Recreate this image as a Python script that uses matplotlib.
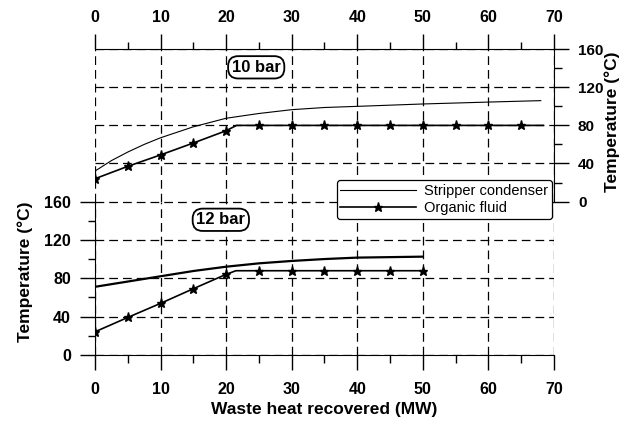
import matplotlib.pyplot as plt
import numpy as np

plt.rcParams['font.family'] = ['Liberation Sans', 'DejaVu Sans']
plt.rcParams['font.weight'] = 'bold'
plt.rcParams['axes.labelweight'] = 'bold'

# 10 bar case (upper panel)
x_sc_10 = [0, 2.5, 5, 7.5, 10, 15, 20, 25, 30, 35, 40, 50, 60, 68]
y_sc_10 = [32, 43, 52, 60, 67, 78.5, 87.5, 92.5, 96.5, 98.8, 100, 102.5, 104.5, 106]
x_of_10 = [0, 5, 10, 15, 20, 21.6, 25, 30, 35, 40, 45, 50, 55, 60, 65, 68.4]
y_of_10 = [24, 37, 49, 61.5, 74.4, 80, 80, 80, 80, 80, 80, 80, 80, 80, 80, 80]
marks_10 = [0, 1, 2, 3, 4, 6, 7, 8, 9, 10, 11, 12, 13, 14]

# 12 bar case (lower panel)
x_sc_12 = [0, 5, 10, 15, 20, 25, 30, 35, 40, 45, 50]
y_sc_12 = [71, 76.5, 82, 87.5, 92, 95.5, 98, 100, 101.5, 102, 102.5]
x_of_12 = [0, 5, 10, 15, 20, 21.5, 25, 30, 35, 40, 45, 50]
y_of_12 = [24, 39, 53.7, 69, 84, 87.8, 87.8, 87.8, 87.8, 87.8, 87.8, 87.8]
marks_12 = [0, 1, 2, 3, 4, 6, 7, 8, 9, 10, 11]

x_ticks = [0, 10, 20, 30, 40, 50, 60, 70]
y_ticks = [0, 40, 80, 120, 160]

fig = plt.figure(figsize=(6.33, 4.28), dpi=100)
ax_bot = fig.add_axes([0.150, 0.171, 0.725, 0.358])
ax_top = fig.add_axes([0.150, 0.529, 0.725, 0.356])

dash = (0, (7, 4))

for ax in (ax_bot, ax_top):
    ax.set_xlim(0, 70)
    ax.set_ylim(0, 160)
    ax.set_xticks(x_ticks)
    ax.set_yticks(y_ticks)
    ax.set_xticks(np.arange(5, 70, 10), minor=True)
    ax.set_yticks(np.arange(20, 160, 40), minor=True)
    ax.grid(True, which='major', color='black', linestyle=dash, linewidth=0.9)
    ax.tick_params(which='major', direction='out', length=10.8, width=1)
    ax.tick_params(which='minor', direction='out', length=5.4, width=1)
    ax.set_axisbelow(True)

# bottom panel: left and bottom spines only
ax_bot.spines['top'].set_visible(False)
ax_bot.spines['right'].set_visible(False)
ax_bot.tick_params(axis='x', which='major', labelsize=11.5, pad=8.6)
ax_bot.tick_params(axis='y', which='major', labelsize=11.5, pad=6.5)
ax_bot.plot(x_sc_12, y_sc_12, color='black', linewidth=1.6)
ax_bot.plot(x_of_12, y_of_12, color='black', linewidth=1.2, marker='*',
            markersize=6.5, markevery=marks_12)
ax_bot.set_xlabel('Waste heat recovered (MW)', fontsize=12.5, fontweight='bold', labelpad=4)
ax_bot.set_ylabel('Temperature (\u00b0C)', fontsize=12.5, fontweight='bold')
ax_bot.yaxis.set_label_coords(-0.135, 0.54)
ax_bot.text(19.2, 141, '12 bar', fontsize=12, ha='center', va='center',
            bbox=dict(boxstyle='round,pad=0.22,rounding_size=0.6', facecolor='white',
                      edgecolor='black', linewidth=1.3))

# top panel: top and right spines only
ax_top.patch.set_visible(False)
ax_top.spines['bottom'].set_visible(False)
ax_top.spines['left'].set_visible(False)
ax_top.xaxis.tick_top()
ax_top.yaxis.tick_right()
ax_top.yaxis.set_label_position('right')
ax_top.tick_params(axis='x', which='major', labelsize=11.5, pad=6.5)
ax_top.tick_params(axis='y', which='major', labelsize=11, pad=6.5)
ax_top.plot(x_sc_10, y_sc_10, color='black', linewidth=0.8, label='Stripper condenser')
ax_top.plot(x_of_10, y_of_10, color='black', linewidth=1.2, marker='*',
            markersize=6.5, markevery=marks_10, label='Organic fluid')
ax_top.set_ylabel('Temperature (\u00b0C)', fontsize=12.5, fontweight='bold')
ax_top.yaxis.set_label_coords(1.11, 0.524)
ax_top.text(24.6, 141, '10 bar', fontsize=12, ha='center', va='center',
            bbox=dict(boxstyle='round,pad=0.22,rounding_size=0.6', facecolor='white',
                      edgecolor='black', linewidth=1.3))

leg = ax_top.legend(loc='lower right', bbox_to_anchor=(552 / 633, 1 - 219 / 428),
                    bbox_transform=fig.transFigure, prop={'size': 10.5, 'weight': 'normal'},
                    handlelength=5.2, numpoints=1, fancybox=True, framealpha=1,
                    edgecolor='black', borderpad=0.25, labelspacing=0.25,
                    handletextpad=0.55, borderaxespad=0)
leg.get_frame().set_linewidth(0.9)

fig.savefig('out.png', dpi=100)
